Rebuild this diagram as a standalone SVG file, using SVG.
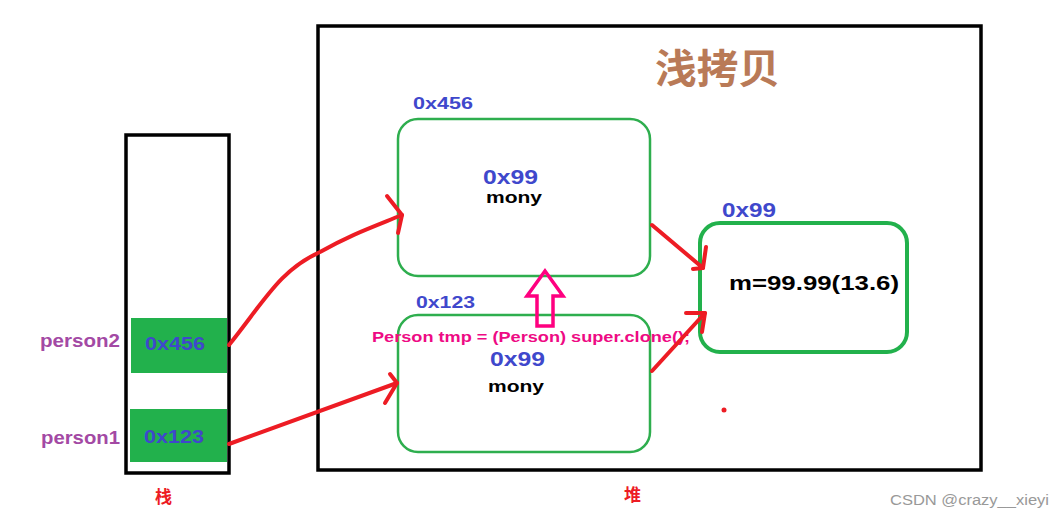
<svg xmlns="http://www.w3.org/2000/svg" width="1064" height="518" viewBox="0 0 1064 518">
<style>
.frame{fill:none;stroke:#000;stroke-width:3.5}
.obj{fill:none;stroke:#2eae4e;stroke-width:2.5}
.slot{fill:#22b14c}
.addr{font-family:"Liberation Sans","Noto Sans CJK SC",sans-serif;font-weight:bold;fill:#3f48cc}
.lbl{font-family:"Liberation Sans","Noto Sans CJK SC",sans-serif;font-weight:bold}
.red{fill:none;stroke:#ed1c24;stroke-width:4;stroke-linecap:round;stroke-linejoin:round}
</style>
<rect width="1064" height="518" fill="#fff"/>
<g id="stack">
<rect class="frame" x="126" y="135" width="103" height="338"/>
<text class="lbl" x="155" y="503" font-size="17" fill="#ed1c24">栈</text>
</g>
<g id="heap">
<rect class="frame" x="318" y="26" width="663" height="444"/>
<text class="lbl" x="624" y="501" font-size="17" fill="#ed1c24">堆</text>
<text class="lbl" x="655" y="83" font-size="40" fill="#b97a57" textLength="125" lengthAdjust="spacingAndGlyphs">浅拷贝</text>
</g>
<g id="person2">
<rect class="slot" x="131" y="318" width="96" height="55"/>
<text class="addr" x="145" y="350" font-size="19" textLength="60" lengthAdjust="spacingAndGlyphs">0x456</text>
<text class="lbl" x="40" y="347" font-size="19" fill="#a349a4" textLength="80" lengthAdjust="spacingAndGlyphs">person2</text>
</g>
<g id="person1">
<rect class="slot" x="130" y="409" width="97" height="53"/>
<text class="addr" x="144" y="443" font-size="19" textLength="60" lengthAdjust="spacingAndGlyphs">0x123</text>
<text class="lbl" x="41" y="444" font-size="19" fill="#a349a4" textLength="79" lengthAdjust="spacingAndGlyphs">person1</text>
</g>
<g id="obj456">
<rect class="obj" x="398" y="119" width="252" height="157" rx="20"/>
<text class="addr" x="413" y="109" font-size="17" textLength="60" lengthAdjust="spacingAndGlyphs">0x456</text>
<text class="addr" x="483" y="184" font-size="21" textLength="55" lengthAdjust="spacingAndGlyphs">0x99</text>
<text class="lbl" x="486" y="203" font-size="17" fill="#000" textLength="56" lengthAdjust="spacingAndGlyphs">mony</text>
</g>
<g id="obj123">
<rect class="obj" x="398" y="315" width="252" height="137" rx="20"/>
<text class="addr" x="416" y="308" font-size="17" textLength="59" lengthAdjust="spacingAndGlyphs">0x123</text>
<text class="addr" x="490" y="366" font-size="21" textLength="55" lengthAdjust="spacingAndGlyphs">0x99</text>
<text class="lbl" x="488" y="392" font-size="17" fill="#000" textLength="56" lengthAdjust="spacingAndGlyphs">mony</text>
</g>
<g id="obj99">
<rect x="700" y="223" width="207" height="129" rx="20" fill="none" stroke="#22b14c" stroke-width="4"/>
<text class="addr" x="722" y="217" font-size="20" textLength="54" lengthAdjust="spacingAndGlyphs">0x99</text>
<text class="lbl" x="729" y="290" font-size="20" fill="#000" textLength="170" lengthAdjust="spacingAndGlyphs">m=99.99(13.6)</text>
</g>
<g id="clone">
<text class="lbl" x="372" y="342" font-size="15" fill="#ee0a84" textLength="318" lengthAdjust="spacingAndGlyphs">Person tmp = (Person) super.clone();</text>
</g>
<g id="connectors">
<path class="red" d="M229,345 C265,300 280,270 320,252 C350,235 370,228 402,215"/>
<path class="red" d="M387,196 L402,215 L398,233"/>
<path class="red" d="M229,444 L397,383"/>
<path class="red" d="M390,374 L397,383 L385,403"/>
<path class="red" d="M652,225 L703,268"/>
<path class="red" d="M693,269 L703,268 L706,247"/>
<path class="red" d="M652,371 L705,313"/>
<path class="red" d="M686,313 L705,313 L702,332"/>
<path d="M545,271 L563,296 L553,296 L553,326 L537,326 L537,296 L527,296 Z" fill="none" stroke="#ff0080" stroke-width="3.5" stroke-linejoin="miter"/>
</g>
<circle cx="724" cy="410" r="2.5" fill="#ed1c24"/>
<text x="890" y="505" font-family="Liberation Sans,sans-serif" font-size="14" fill="#999" textLength="159" lengthAdjust="spacingAndGlyphs">CSDN @crazy__xieyi</text>
</svg>
